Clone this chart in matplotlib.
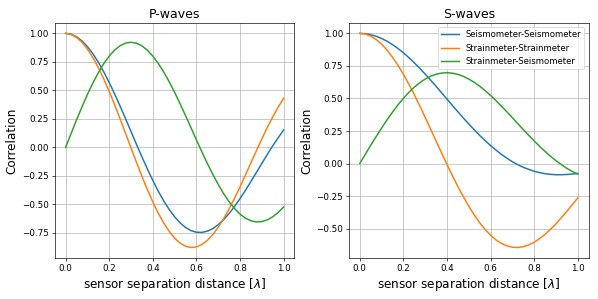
import matplotlib
matplotlib.use("Agg")
import matplotlib.pyplot as plt

# Sensor separation in wavelengths
distance = [0.0, 0.025, 0.05, 0.075, 0.10, 0.125, 0.15, 0.175, 0.20, 0.225,
            0.25, 0.275, 0.30, 0.325, 0.35, 0.375, 0.40, 0.425, 0.45, 0.475,
            0.50, 0.525, 0.55, 0.575, 0.60, 0.625, 0.65, 0.675, 0.70, 0.725,
            0.75, 0.775, 0.80, 0.825, 0.85, 0.875, 0.90, 0.925, 0.95, 0.975, 1.0]

# P-waves
p_seis_seis = [1.000, 0.993, 0.971, 0.934, 0.884, 0.822, 0.747, 0.663, 0.569, 0.468,
               0.362, 0.252, 0.140, 0.028, -0.082, -0.188, -0.289, -0.383, -0.468, -0.543,
               -0.608, -0.661, -0.701, -0.729, -0.743, -0.745, -0.734, -0.712, -0.677, -0.633,
               -0.579, -0.518, -0.449, -0.376, -0.299, -0.220, -0.141, -0.062, 0.014, 0.085, 0.152]
p_strain_strain = [1.000, 0.991, 0.965, 0.922, 0.863, 0.788, 0.701, 0.601, 0.491, 0.374,
                   0.251, 0.124, -0.004, -0.130, -0.252, -0.369, -0.477, -0.576, -0.662, -0.736,
                   -0.795, -0.838, -0.866, -0.877, -0.872, -0.851, -0.815, -0.764, -0.700, -0.625,
                   -0.539, -0.446, -0.346, -0.242, -0.136, -0.030, 0.074, 0.174, 0.267, 0.353, 0.430]
p_strain_seis = [0.000, 0.121, 0.241, 0.355, 0.464, 0.565, 0.655, 0.735, 0.801, 0.854,
                 0.892, 0.915, 0.922, 0.914, 0.891, 0.853, 0.801, 0.737, 0.662, 0.577,
                 0.483, 0.384, 0.280, 0.174, 0.067, -0.038, -0.139, -0.235, -0.324, -0.405,
                 -0.476, -0.536, -0.584, -0.620, -0.643, -0.653, -0.650, -0.635, -0.608, -0.570, -0.523]

# S-waves
s_seis_seis = [1.000, 0.998, 0.990, 0.978, 0.961, 0.940, 0.914, 0.884, 0.851, 0.814,
               0.774, 0.732, 0.687, 0.641, 0.593, 0.544, 0.495, 0.446, 0.398, 0.350,
               0.304, 0.259, 0.216, 0.176, 0.138, 0.103, 0.070, 0.041, 0.014, -0.009,
               -0.029, -0.045, -0.059, -0.070, -0.078, -0.083, -0.086, -0.086, -0.084, -0.081, -0.076]
s_strain_strain = [1.000, 0.995, 0.979, 0.953, 0.917, 0.872, 0.817, 0.755, 0.686, 0.610,
                   0.529, 0.443, 0.355, 0.264, 0.173, 0.082, -0.007, -0.094, -0.177, -0.255,
                   -0.328, -0.395, -0.455, -0.507, -0.551, -0.587, -0.614, -0.633, -0.643, -0.645,
                   -0.639, -0.625, -0.605, -0.577, -0.544, -0.505, -0.463, -0.416, -0.367, -0.316, -0.264]
s_strain_seis = [0.000, 0.070, 0.140, 0.207, 0.273, 0.336, 0.395, 0.451, 0.501, 0.547,
                 0.587, 0.621, 0.649, 0.671, 0.686, 0.695, 0.698, 0.694, 0.685, 0.670,
                 0.649, 0.624, 0.594, 0.560, 0.523, 0.483, 0.440, 0.397, 0.352, 0.306,
                 0.261, 0.217, 0.174, 0.132, 0.093, 0.056, 0.022, -0.009, -0.037, -0.061, -0.081]

labels = ["Seismometer-Seismometer", "Strainmeter-Strainmeter", "Strainmeter-Seismometer"]

fig, (ax1, ax2) = plt.subplots(1, 2, figsize=(10, 5), dpi=59.8)
fig.subplots_adjust(left=0.0915, right=0.9844, bottom=0.1365, top=0.9241, wspace=0.227)

for ax, title, curves in [
    (ax1, "P-waves", [p_seis_seis, p_strain_strain, p_strain_seis]),
    (ax2, "S-waves", [s_seis_seis, s_strain_strain, s_strain_seis]),
]:
    for curve, label in zip(curves, labels):
        ax.plot(distance, curve, label=label, linewidth=1.8)
    ax.set_title(title, fontsize=15)
    ax.set_xlabel(r"sensor separation distance [$\lambda$]", fontsize=14.5)
    ax.set_ylabel("Correlation", fontsize=14.5)
    ax.set_xticks([0.0, 0.2, 0.4, 0.6, 0.8, 1.0])
    ax.tick_params(labelsize=10.5)
    ax.grid(True)

ax2.legend(loc="upper right", fontsize=10.3)

plt.savefig("out.png", dpi=59.8)
